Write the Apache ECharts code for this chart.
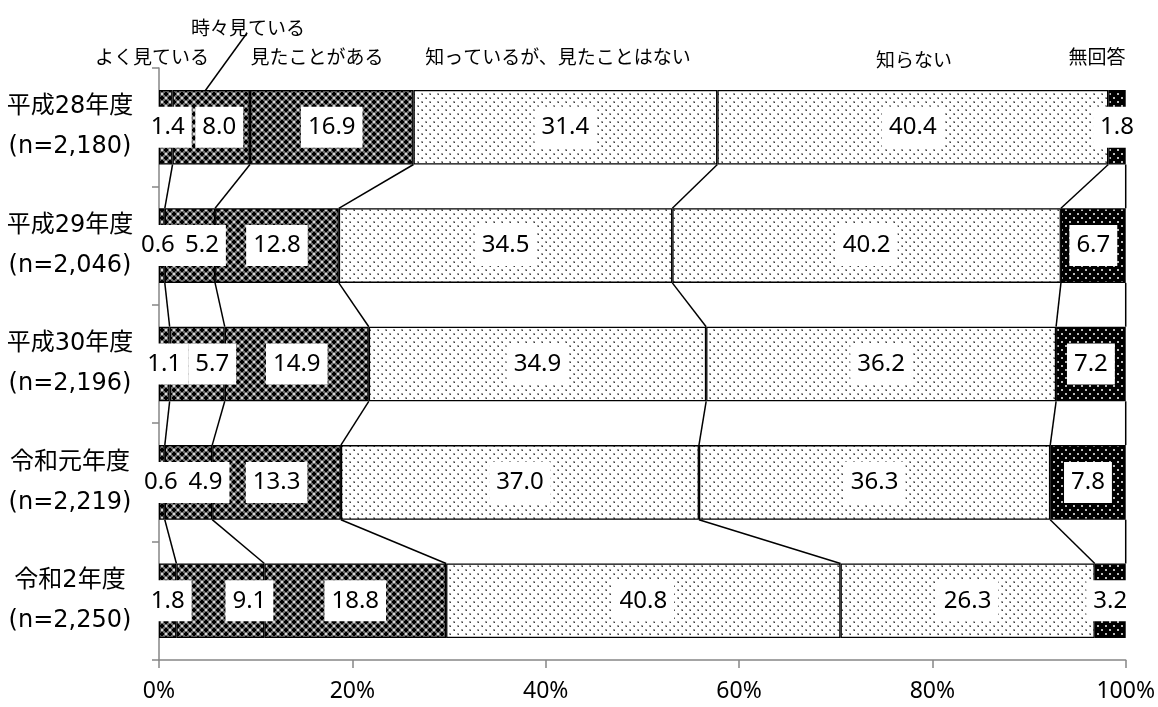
<!DOCTYPE html>
<html>
<head>
<meta charset="utf-8">
<script src="https://cdn.jsdelivr.net/npm/echarts@6/dist/echarts.min.js"></script>
<style>
html,body{margin:0;padding:0;background:#fff;}
#main{width:1158px;height:707px;}
</style>
</head>
<body>
<div id="main"></div>
<script>
// ---- data ----
const categories = ['平成28年度\n(n=2,180)', '平成29年度\n(n=2,046)', '平成30年度\n(n=2,196)', '令和元年度\n(n=2,219)', '令和2年度\n(n=2,250)'];
const seriesNames = ['よく見ている', '時々見ている', '見たことがある', '知っているが、見たことはない', '知らない', '無回答'];
const yokuMiteiru = [1.4, 0.6, 1.1, 0.6, 1.8];
const tokidokiMiteiru = [8.0, 5.2, 5.7, 4.9, 9.1];
const mitaKotogaAru = [16.9, 12.8, 14.9, 13.3, 18.8];
const shitteiruGaNai = [31.4, 34.5, 34.9, 37.0, 40.8];
const shiranai = [40.4, 40.2, 36.2, 36.3, 26.3];
const mukaitou = [1.8, 6.7, 7.2, 7.8, 3.2];
const xTickLabels = ['0%', '20%', '40%', '60%', '80%', '100%'];

const allSeries = [yokuMiteiru, tokidokiMiteiru, mitaKotogaAru, shitteiruGaNai, shiranai, mukaitou];

// horizontal nudges (px) of the data labels that were moved apart in the original
const labelNudge = [
  [2, -4, 0, -1, 0],
  [8, 12, 15, 17, 29],
  [0, 0, 0, 0, 0],
  [0, 0, 0, 0, 0],
  [0, 0, 0, 0, 0],
  [0, 0, 0, 0, 0]
];

// 100% stacked: normalise each category to its row total
const totals = categories.map((c, i) => allSeries.reduce((s, arr) => s + arr[i], 0));
const pct = allSeries.map(arr => arr.map((v, i) => v / totals[i] * 100));

// ---- patterns ----
function makeTile(w, h, draw) {
  const c = document.createElement('canvas');
  c.width = w; c.height = h;
  const ctx = c.getContext('2d');
  draw(ctx);
  return { image: c, repeat: 'repeat' };
}
const darkPattern = makeTile(8, 8, ctx => {
  ctx.fillStyle = '#6e6e6e'; ctx.fillRect(0, 0, 8, 8);
  ctx.fillStyle = '#000';
  ctx.fillRect(1, 0, 2, 4); ctx.fillRect(0, 1, 4, 2);
  ctx.fillRect(5, 4, 2, 4); ctx.fillRect(4, 5, 4, 2);
  ctx.fillStyle = '#d8d8d8';
  ctx.fillRect(5, 1, 2, 2); ctx.fillRect(1, 5, 2, 2);
});
const dotPattern = makeTile(8, 8, ctx => {
  ctx.fillStyle = '#fff'; ctx.fillRect(0, 0, 8, 8);
  ctx.fillStyle = '#a0a0a0';
  ctx.fillRect(1, 1, 2, 2); ctx.fillRect(5, 5, 2, 2);
  ctx.fillStyle = '#404040';
  ctx.fillRect(2, 2, 1, 1); ctx.fillRect(6, 6, 1, 1);
});
const blackPattern = makeTile(8, 8, ctx => {
  ctx.fillStyle = '#000'; ctx.fillRect(0, 0, 8, 8);
  ctx.fillStyle = '#bbb';
  ctx.fillRect(1, 1, 2, 2); ctx.fillRect(5, 5, 2, 2);
});
const fills = [darkPattern, darkPattern, darkPattern, dotPattern, dotPattern, blackPattern];

const FONT = '"Noto Sans CJK JP", "Noto Sans", sans-serif';
const NUM_FONT = '"Noto Sans", "Noto Sans CJK JP", sans-serif';
const CAT_FONT = '"DejaVu Sans", "Noto Sans CJK JP", sans-serif';
const BAR_FRAC = 0.63;

const barSeries = seriesNames.map((name, k) => ({
  name: name,
  type: 'bar',
  stack: 'total',
  barWidth: (BAR_FRAC * 100) + '%',
  data: pct[k].map((v, i) => ({
    value: v,
    label: { offset: [labelNudge[k][i], 0] }
  })),
  itemStyle: { color: fills[k], borderColor: '#000', borderWidth: 1.3 },
  label: {
    show: true,
    position: 'inside',
    formatter: p => allSeries[k][p.dataIndex].toFixed(1),
    color: '#000',
    fontFamily: NUM_FONT,
    fontSize: 24,
    lineHeight: 25,
    backgroundColor: '#fff',
    padding: [8, 7, 8, 7]
  },
  z: 2
}));

// series lines between consecutive bars (cumulative boundaries)
const linkData = [];
for (let i = 0; i < categories.length - 1; i++) {
  let cA = 0, cB = 0;
  for (let k = 0; k < allSeries.length; k++) {
    cA += pct[k][i]; cB += pct[k][i + 1];
    linkData.push([cA, i, cB]);
  }
}
const linkSeries = {
  type: 'custom',
  name: 'links',
  silent: true,
  encode: { x: [0, 2], y: 1 },
  data: linkData,
  renderItem: (params, api) => {
    const i = api.value(1);
    const p1 = api.coord([api.value(0), i]);
    const p2 = api.coord([api.value(2), i + 1]);
    const band = api.size([0, 1])[1];
    const half = band * BAR_FRAC / 2;
    return {
      type: 'line',
      shape: { x1: p1[0], y1: p1[1] + half, x2: p2[0], y2: p2[1] - half },
      style: { stroke: '#000', lineWidth: 1.5 }
    };
  },
  z: 1
};

const chart = echarts.init(document.getElementById('main'), null, { renderer: 'canvas' });

const topLabels = [
  { text: seriesNames[0], x: 152, y: 57 },
  { text: seriesNames[1], x: 248, y: 28 },
  { text: seriesNames[2], x: 317, y: 57 },
  { text: seriesNames[3], x: 558, y: 57 },
  { text: seriesNames[4], x: 914, y: 60 },
  { text: seriesNames[5], x: 1097, y: 57 }
];

chart.setOption({
  animation: false,
  backgroundColor: '#fff',
  grid: { left: 159, right: 30, top: 68, bottom: 47 },
  xAxis: {
    type: 'value',
    min: 0, max: 100, interval: 20,
    axisLine: { show: true, lineStyle: { color: '#868686', width: 1.5 } },
    axisTick: { show: true, length: 8, lineStyle: { color: '#868686', width: 1.5 } },
    splitLine: { show: false },
    axisLabel: {
      formatter: v => xTickLabels[Math.round(v / 20)],
      color: '#000', fontFamily: NUM_FONT, fontSize: 23, margin: 20
    }
  },
  yAxis: {
    type: 'category',
    inverse: true,
    data: categories,
    axisLine: { show: true, lineStyle: { color: '#868686', width: 1.5 } },
    axisTick: { show: true, length: 7, lineStyle: { color: '#868686', width: 1.5 } },
    axisLabel: {
      color: '#000', fontFamily: CAT_FONT, fontSize: 24, lineHeight: 40,
      align: 'center', margin: 89
    }
  },
  graphic: topLabels.map(t => ({
    type: 'text',
    x: t.x, y: t.y,
    style: {
      text: t.text, fill: '#000', font: '19px ' + FONT,
      textAlign: 'center', textVerticalAlign: 'middle'
    },
    z: 10
  })).concat([{
    type: 'line',
    shape: { x1: 247, y1: 33, x2: 205, y2: 91 },
    style: { stroke: '#000', lineWidth: 1.5 },
    z: 10
  }]),
  series: barSeries.concat([linkSeries])
});
</script>
</body>
</html>
